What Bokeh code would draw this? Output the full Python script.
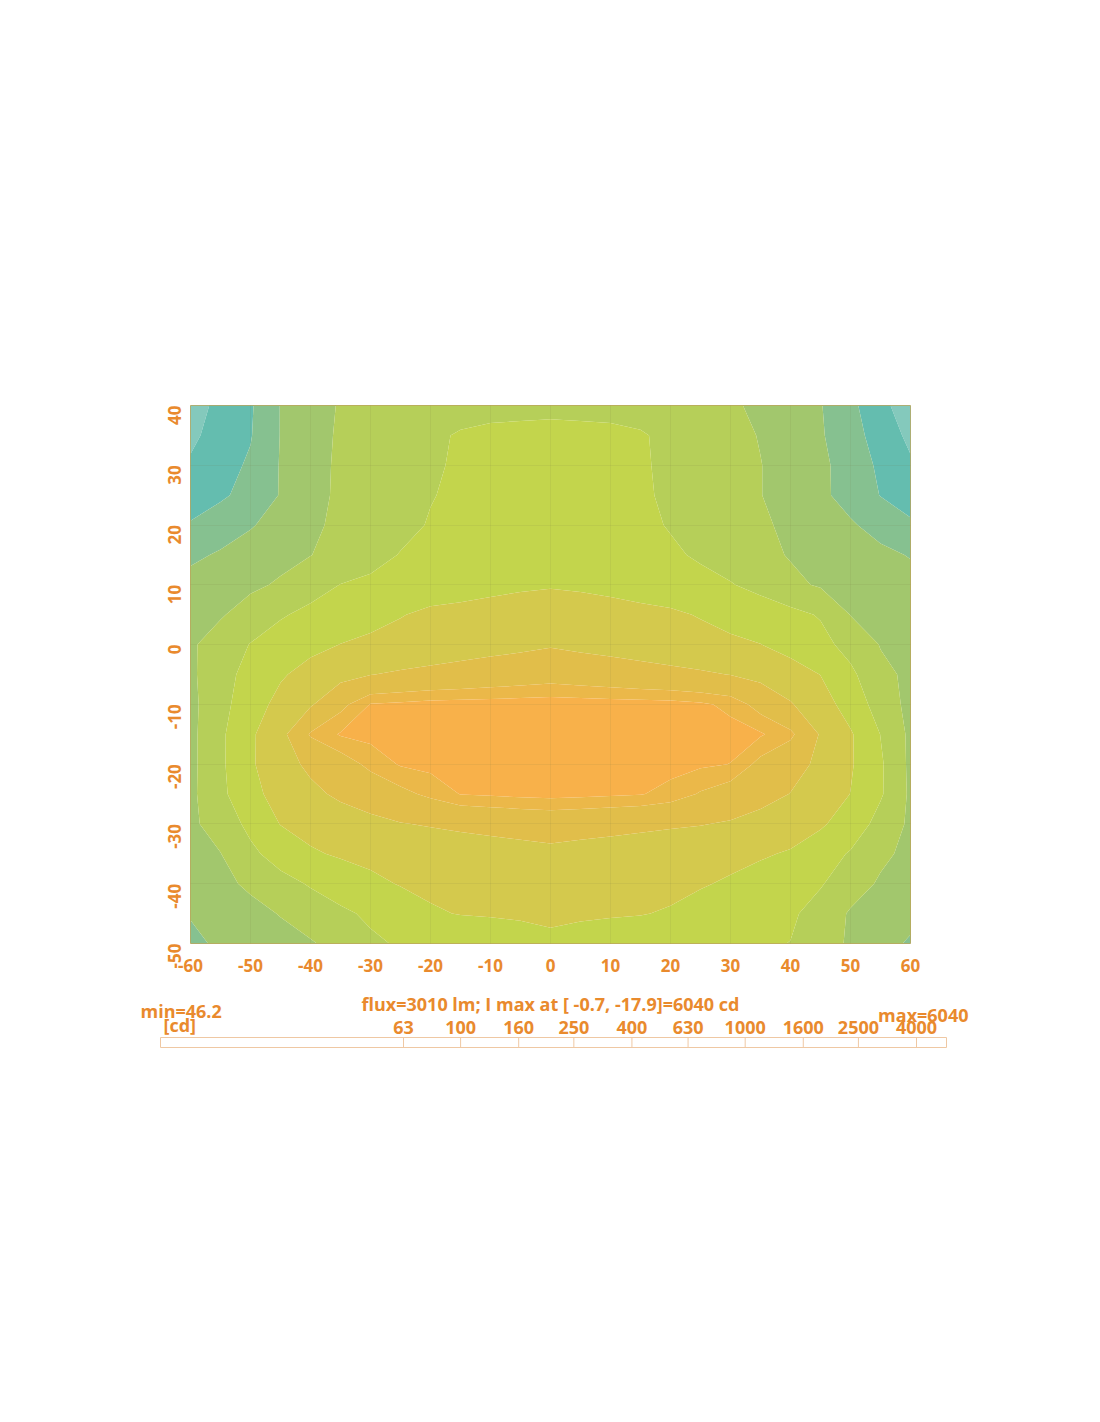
import math
import numpy as np
from bokeh.plotting import figure
from bokeh.layouts import column
from bokeh.models import Range1d, FixedTicker, LinearScale
from bokeh.core.properties import value
from bokeh.embed import file_html
from bokeh.resources import INLINE

# ---------------- data (luminous intensity, cd) ----------------
h_angles = [-60, -55, -50, -45, -40, -35, -30, -25, -20, -15, -10, -5, 0,
            5, 10, 15, 20, 25, 30, 35, 40, 45, 50, 55, 60]
v_angles = [40, 35, 30, 25, 20, 15, 10, 5, 0, -5, -10, -15, -20, -25, -30, -35, -40, -45, -50]

I_p40 = [900, 1060, 1210, 1610, 1840, 2030, 2100, 2170, 2240, 2330, 2360, 2370, 2380, 2370, 2360, 2330, 2220, 2130, 2050, 1930, 1770, 1620, 1320, 1050, 900]
I_p35 = [950, 1100, 1230, 1610, 1850, 2050, 2170, 2300, 2420, 2540, 2600, 2620, 2640, 2620, 2600, 2540, 2400, 2260, 2120, 1980, 1810, 1640, 1360, 1130, 950]
I_p30 = [1030, 1140, 1290, 1620, 1870, 2060, 2190, 2320, 2450, 2550, 2630, 2710, 2790, 2710, 2620, 2540, 2430, 2290, 2150, 2010, 1840, 1680, 1440, 1190, 1030]
I_p25 = [1130, 1200, 1360, 1620, 1870, 2070, 2200, 2340, 2480, 2580, 2680, 2790, 2890, 2780, 2670, 2560, 2430, 2290, 2150, 2010, 1840, 1670, 1470, 1240, 1130]
I_p20 = [1270, 1420, 1570, 1740, 1920, 2090, 2230, 2380, 2530, 2640, 2750, 2870, 2990, 2860, 2730, 2600, 2470, 2340, 2200, 2060, 1920, 1780, 1640, 1470, 1290]
I_p15 = [1530, 1640, 1760, 1880, 1990, 2170, 2350, 2520, 2620, 2720, 2820, 2920, 3020, 2910, 2790, 2680, 2570, 2440, 2280, 2120, 1970, 1870, 1780, 1680, 1580]
I_p10 = [1720, 1820, 1920, 2050, 2290, 2510, 2590, 2680, 2820, 2900, 2990, 3060, 3100, 3060, 2990, 2900, 2800, 2640, 2530, 2340, 2100, 1950, 1880, 1800, 1720]
I_p05 = [1840, 1960, 2190, 2450, 2630, 2790, 2960, 3120, 3280, 3330, 3380, 3440, 3490, 3440, 3380, 3310, 3250, 3110, 2940, 2790, 2640, 2460, 1990, 1920, 1840]
I_000 = [1940, 2200, 2520, 2740, 2960, 3160, 3270, 3380, 3480, 3590, 3700, 3800, 3920, 3800, 3700, 3590, 3480, 3380, 3270, 3160, 2920, 2660, 2320, 1980, 1920]
I_m05 = [1920, 2290, 2690, 3070, 3400, 3690, 3980, 4110, 4220, 4340, 4450, 4560, 4670, 4560, 4450, 4340, 4220, 4110, 3980, 3720, 3430, 3140, 2610, 2100, 1920]
I_m10 = [1880, 2320, 2830, 3360, 3900, 4800, 5530, 5610, 5690, 5710, 5730, 5750, 5770, 5750, 5730, 5710, 5690, 5590, 5380, 4730, 4070, 3460, 2860, 2250, 1880]
I_m15 = [1880, 2390, 3030, 3710, 5080, 5550, 5660, 5770, 5880, 5910, 5950, 5980, 6010, 5980, 5950, 5910, 5880, 5780, 5670, 5560, 5170, 3920, 3220, 2490, 1900]
I_m20 = [1880, 2390, 3050, 3650, 4180, 4640, 5170, 5550, 5650, 5740, 5830, 5920, 6030, 5930, 5840, 5760, 5670, 5590, 5490, 4810, 4330, 3820, 3220, 2570, 1900]
I_m25 = [1900, 2360, 2950, 3410, 3800, 4160, 4480, 4810, 5150, 5520, 5580, 5640, 5680, 5640, 5590, 5530, 5340, 4940, 4630, 4310, 3980, 3580, 3140, 2560, 1920]
I_m30 = [1920, 2180, 2640, 3170, 3350, 3560, 3750, 3960, 4070, 4170, 4260, 4350, 4420, 4350, 4280, 4200, 4110, 4040, 3910, 3690, 3460, 3240, 2830, 2310, 1920]
I_m35 = [1860, 1990, 2380, 2740, 3080, 3220, 3290, 3380, 3460, 3540, 3620, 3690, 3780, 3690, 3620, 3530, 3460, 3380, 3290, 3220, 3090, 2770, 2450, 2100, 1880]
I_m40 = [1760, 1900, 2070, 2310, 2550, 2790, 3030, 3180, 3240, 3310, 3380, 3440, 3510, 3450, 3380, 3320, 3260, 3190, 3090, 2910, 2720, 2540, 2220, 1940, 1800]
I_m45 = [1620, 1750, 1880, 2020, 2210, 2390, 2600, 2850, 3100, 3170, 3190, 3210, 3240, 3210, 3190, 3170, 3110, 2970, 2840, 2710, 2580, 2300, 1950, 1880, 1720]
I_m50 = [1530, 1650, 1750, 1860, 1960, 2150, 2400, 2560, 2660, 2750, 2860, 2960, 3050, 2980, 2920, 2840, 2780, 2710, 2640, 2570, 2490, 2200, 1940, 1740, 1550]

intensity_rows = [I_p40, I_p35, I_p30, I_p25, I_p20, I_p15, I_p10, I_p05, I_000,
                  I_m05, I_m10, I_m15, I_m20, I_m25, I_m30, I_m35, I_m40, I_m45, I_m50]

contour_levels = [800, 1000, 1250, 1600, 2000, 2500, 3150, 4000, 5000, 5500, 6100]
band_colors = ["#84c9bc", "#64bdaf", "#86c190", "#a2c76d", "#b6cf59", "#c3d54c",
               "#d4c94d", "#e1be4a", "#ebb849", "#f8b14a"]

x_ticks = [-60, -50, -40, -30, -20, -10, 0, 10, 20, 30, 40, 50, 60]
y_ticks = [-50, -40, -30, -20, -10, 0, 10, 20, 30, 40]

scale_ticks = [63, 100, 160, 250, 400, 630, 1000, 1600, 2500, 4000]
scale_labels = ["63", "100", "160", "250", "400", "630", "1000", "1600", "2500", "4000"]

i_min = 46.2
i_max = 6040
flux_lm = 3010
peak_h = -0.7
peak_v = -17.9

# ---------------- styles ----------------
ORANGE = "#e98a2d"
FONT = "Open Sans"
BAR_LINE = "#efc8a3"
STRIP_FONT_SIZE = "18px"

# ---------------- main contour figure ----------------
p1 = figure(frame_width=720, frame_height=538,
            x_range=Range1d(-60, 60), y_range=Range1d(-50, 40),
            output_backend="svg", toolbar_location=None,
            min_border_left=190, min_border_top=405, min_border_bottom=40, min_border_right=60,
            background_fill_color="white", border_fill_color="white",
            outline_line_color="#bba55c", outline_line_width=1)
p1.frame_align = False

z = np.array(intensity_rows, dtype=float)[::-1]
y_asc = v_angles[::-1]
cr = p1.contour(x=h_angles, y=y_asc, z=z, levels=contour_levels,
                fill_color=band_colors, line_color=None)
# stroke the filled bands with their own colour to hide anti-aliasing seams
fg = cr.fill_renderer.glyph
fg.line_color = fg.fill_color
fg.line_width = 1.2

p1.xaxis.ticker = FixedTicker(ticks=x_ticks)
p1.yaxis.ticker = FixedTicker(ticks=y_ticks)
p1.xaxis.major_label_overrides = {t: str(t) for t in x_ticks}
p1.yaxis.major_label_overrides = {t: str(t) for t in y_ticks}
p1.xgrid.ticker = FixedTicker(ticks=x_ticks)
p1.ygrid.ticker = FixedTicker(ticks=y_ticks)
p1.grid.grid_line_color = "#7a7a48"
p1.grid.grid_line_alpha = 0.1
p1.grid.level = "annotation"

for ax in (p1.xaxis, p1.yaxis):
    ax.axis_line_color = None
    ax.major_tick_line_color = None
    ax.minor_tick_line_color = None
    ax.major_label_text_font = FONT
    ax.major_label_text_font_style = "bold"
    ax.major_label_text_font_size = "17px"
    ax.major_label_text_color = ORANGE
p1.xaxis.major_label_standoff = 9
p1.yaxis.major_label_standoff = 10
p1.yaxis.major_label_orientation = math.pi / 2

# ---------------- scale / caption strip ----------------
p2 = figure(frame_width=860, frame_height=75,
            x_axis_type="log", x_range=Range1d(6.918, 7279), y_range=Range1d(75, 0),
            extra_x_ranges={"px": Range1d(130, 990)},
            extra_x_scales={"px": LinearScale()},
            output_backend="svg", toolbar_location=None,
            min_border_left=130, min_border_right=10, min_border_top=0, min_border_bottom=0,
            outline_line_color=None, x_axis_location=None, y_axis_location=None,
            background_fill_color="white", border_fill_color="white")
p2.frame_align = False
p2.grid.visible = False

p2.quad(left=[160], right=[946], top=[54], bottom=[64], x_range_name="px",
        fill_color="white", line_color=BAR_LINE, line_width=1)
p2.segment(x0=scale_ticks, x1=scale_ticks, y0=54, y1=64, line_color=BAR_LINE, line_width=1)
p2.text(x=scale_ticks, y=44, text=scale_labels, text_align="center", text_baseline="middle",
        text_font=value(FONT), text_font_style="bold", text_font_size=STRIP_FONT_SIZE,
        text_color=ORANGE)

caption = f"flux={flux_lm} lm; I max at [ {peak_h}, {peak_v}]={i_max} cd"
p2.text(x=[550], y=[20], text=[caption], x_range_name="px", text_align="center",
        text_baseline="middle", text_font=value(FONT), text_font_style="bold",
        text_font_size=STRIP_FONT_SIZE, text_color=ORANGE)
p2.text(x=[140], y=[27], text=[f"min={i_min}"], x_range_name="px", text_align="left",
        text_baseline="middle", text_font=value(FONT), text_font_style="bold",
        text_font_size=STRIP_FONT_SIZE, text_color=ORANGE)
p2.text(x=[163], y=[41], text=["[cd]"], x_range_name="px", text_align="left",
        text_baseline="middle", text_font=value(FONT), text_font_style="bold",
        text_font_size=STRIP_FONT_SIZE, text_color=ORANGE)
p2.text(x=[968], y=[31], text=[f"max={i_max}"], x_range_name="px", text_align="right",
        text_baseline="middle", text_font=value(FONT), text_font_style="bold",
        text_font_size=STRIP_FONT_SIZE, text_color=ORANGE)

layout = column(p1, p2, spacing=0)
open("out.html", "w").write(file_html(layout, INLINE))
